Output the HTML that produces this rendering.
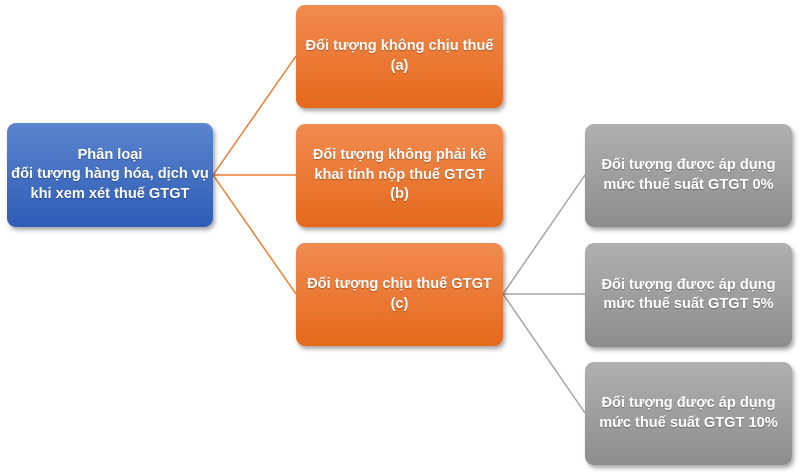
<!DOCTYPE html>
<html><head><meta charset="utf-8"><style>
html,body{margin:0;padding:0;background:#fff;}
body{width:800px;height:475px;position:relative;overflow:hidden;font-family:"Liberation Sans","DejaVu Sans",sans-serif;}
.b{position:absolute;border-radius:9px;display:flex;align-items:center;justify-content:center;text-align:center;color:#fff;font-weight:bold;font-size:14.6px;line-height:19.5px;text-shadow:0 1px 1px rgba(0,0,0,0.3);box-shadow:2px 3px 4px rgba(0,0,0,0.35);box-sizing:border-box;white-space:nowrap;}
.blue{background:linear-gradient(#5B85CE,#2E5CB6);}
.or{background:linear-gradient(#F18B50,#E5691C);}
.gr{background:linear-gradient(#B0B0B0,#8D8D8D);}
svg{position:absolute;left:0;top:0;}
</style></head><body>
<svg width="800" height="475">
<g stroke="#ED7D31" stroke-width="1.5" fill="none">
<line x1="213" y1="175" x2="296" y2="56"/>
<line x1="213" y1="175" x2="296" y2="175"/>
<line x1="213" y1="175" x2="296" y2="294"/>
</g>
<g stroke="#A5A5A5" stroke-width="1.5" fill="none">
<line x1="503" y1="294" x2="585" y2="175"/>
<line x1="503" y1="294" x2="585" y2="294"/>
<line x1="503" y1="294" x2="585" y2="413"/>
</g>
</svg>
<div class="b blue" style="left:7px;top:123px;width:206px;height:104px;">Phân loại<br>đối tượng hàng hóa, dịch vụ<br>khi xem xét thuế GTGT</div>
<div class="b or" style="left:296px;top:5px;width:207px;height:103px;">Đối tượng không chịu thuế<br>(a)</div>
<div class="b or" style="left:296px;top:124px;width:207px;height:103px;">Đối tượng không phải kê<br>khai tính nộp thuế GTGT<br>(b)</div>
<div class="b or" style="left:296px;top:243px;width:207px;height:103px;">Đối tượng chịu thuế GTGT<br>(c)</div>
<div class="b gr" style="left:585px;top:124px;width:207px;height:103px;">Đối tượng được áp dụng<br>mức thuế suất GTGT 0%</div>
<div class="b gr" style="left:585px;top:243px;width:207px;height:104px;">Đối tượng được áp dụng<br>mức thuế suất GTGT 5%</div>
<div class="b gr" style="left:585px;top:362px;width:207px;height:103px;">Đối tượng được áp dụng<br>mức thuế suất GTGT 10%</div>
</body></html>
